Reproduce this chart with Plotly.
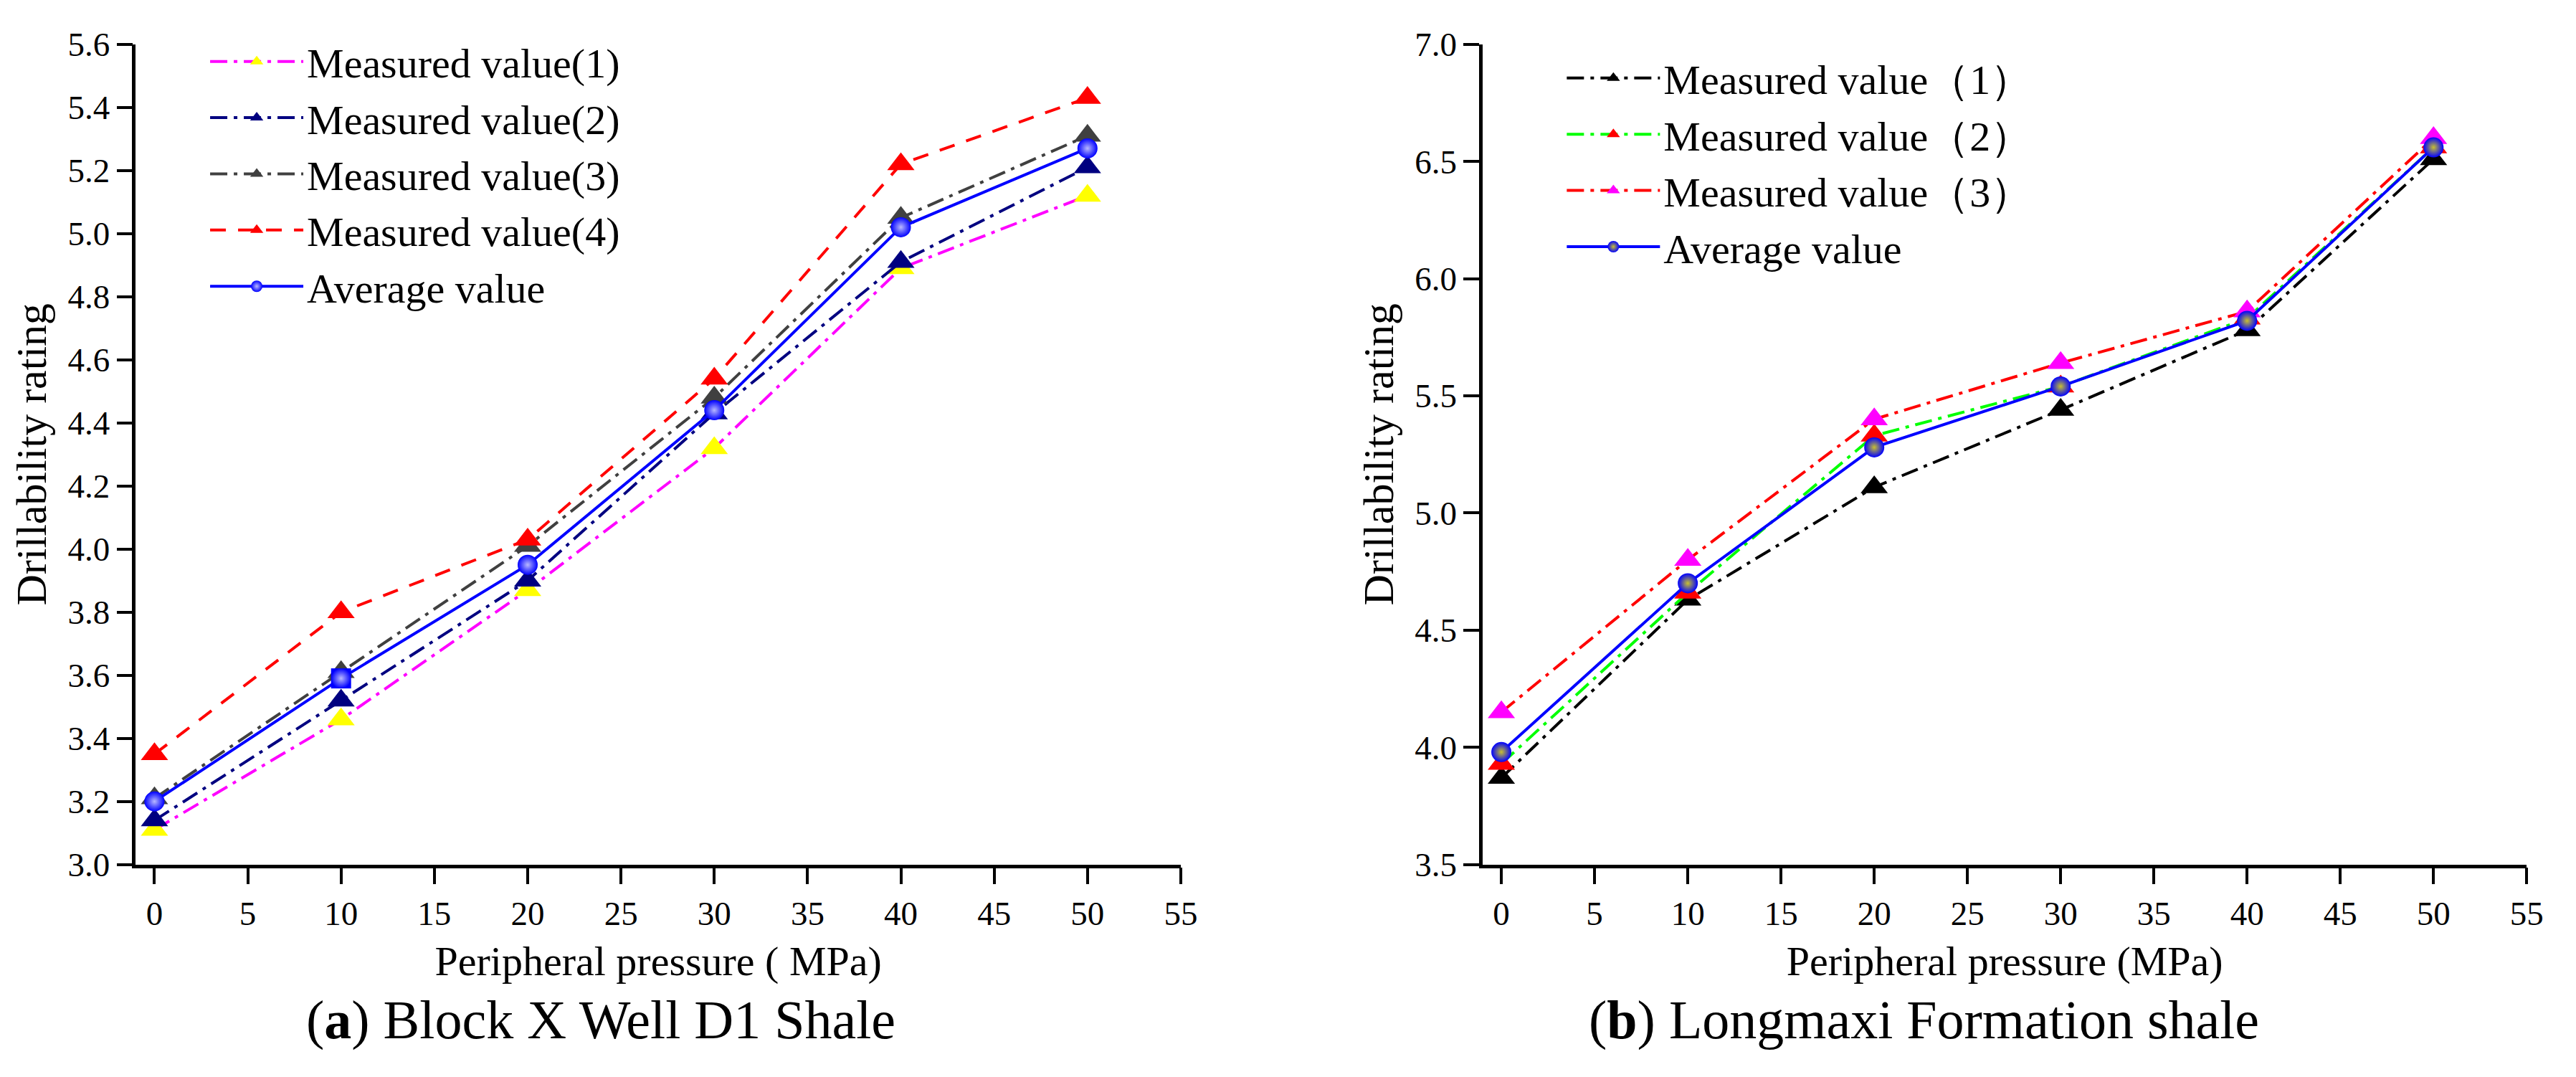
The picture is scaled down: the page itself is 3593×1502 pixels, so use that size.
import plotly.graph_objects as go

# ---------------- data ----------------
pressure = [0, 10, 20, 30, 40, 50]

# (a) Block X Well D1 Shale
a_names = ["Measured value(1)", "Measured value(2)", "Measured value(3)",
           "Measured value(4)", "Average value"]
a_m1 = [3.11, 3.46, 3.87, 4.32, 4.89, 5.12]
a_m2 = [3.14, 3.52, 3.90, 4.43, 4.91, 5.21]
a_m3 = [3.21, 3.61, 4.01, 4.48, 5.05, 5.31]
a_m4 = [3.35, 3.80, 4.03, 4.54, 5.22, 5.43]
a_avg = [3.20, 3.59, 3.95, 4.44, 5.02, 5.27]

# (b) Longmaxi Formation shale
b_names = ["Measured value\uff081\uff09", "Measured value\uff082\uff09",
           "Measured value\uff083\uff09", "Average value"]
b_m1 = [3.87, 4.63, 5.11, 5.44, 5.78, 6.51]
b_m2 = [3.93, 4.66, 5.33, 5.54, 5.83, 6.56]
b_m3 = [4.15, 4.80, 5.40, 5.64, 5.86, 6.60]
b_avg = [3.98, 4.70, 5.28, 5.54, 5.82, 6.56]

x_ticks = list(range(0, 56, 5))
a_yticks = [3.0, 3.2, 3.4, 3.6, 3.8, 4.0, 4.2, 4.4, 4.6, 4.8, 5.0, 5.2, 5.4, 5.6]
b_yticks = [3.5, 4.0, 4.5, 5.0, 5.5, 6.0, 6.5, 7.0]

captions = ["(<b>a</b>) Block X Well D1 Shale", "(<b>b</b>) Longmaxi Formation shale"]
x_title = ["Peripheral pressure ( MPa)", "Peripheral pressure (MPa)"]
y_title = "Drillability rating"

# ---------------- styling ----------------
FONT = "Liberation Serif, Times New Roman, serif"
TRI = 33
CIR = 28
LW = 4
DASHDOT = "24px,9px,5px,9px"
DASH = "22px,17px"

fig = go.Figure()

def add(x, y, name, lcolor, mcolor, dash, symbol, size, xa, ya, legend, grad=None):
    marker = dict(symbol=symbol, size=size, color=mcolor, line=dict(width=0))
    if grad is not None:
        marker["gradient"] = dict(type="radial", color=grad)
    fig.add_trace(go.Scatter(
        x=x, y=y, name=name, mode="lines+markers",
        line=dict(color=lcolor, width=LW, dash=dash),
        marker=marker, xaxis=xa, yaxis=ya, legend=legend))

# panel (a)
add(pressure, a_m1, a_names[0], "#FF00FF", "#FFFF00", DASHDOT, "triangle-up", TRI, "x", "y", "legend")
add(pressure, a_m2, a_names[1], "#000080", "#000080", DASHDOT, "triangle-up", TRI, "x", "y", "legend")
add(pressure, a_m3, a_names[2], "#404040", "#404040", DASHDOT, "triangle-up", TRI, "x", "y", "legend")
add(pressure, a_m4, a_names[3], "#FF0000", "#FF0000", DASH, "triangle-up", TRI, "x", "y", "legend")
add(pressure, a_avg, a_names[4], "#0000FF", "#0000FF", "solid",
    ["circle", "square", "circle", "circle", "circle", "circle"], CIR, "x", "y", "legend",
    grad="#B8B8FF")

# panel (b)
add(pressure, b_m1, b_names[0], "#000000", "#000000", DASHDOT, "triangle-up", TRI, "x2", "y2", "legend2")
add(pressure, b_m2, b_names[1], "#00FF00", "#FF0000", DASHDOT, "triangle-up", TRI, "x2", "y2", "legend2")
add(pressure, b_m3, b_names[2], "#FF0000", "#FF00FF", DASHDOT, "triangle-up", TRI, "x2", "y2", "legend2")
add(pressure, b_avg, b_names[3], "#0000FF", "#0000FF", "solid", "circle", CIR, "x2", "y2", "legend2",
    grad="#C8C030")

W, H = 3593, 1502

def xaxis(domain, title, anchor):
    return dict(domain=domain, range=[-1, 55], tickvals=x_ticks, ticks="outside",
                ticklen=23, tickwidth=4, tickcolor="black", showline=True, linewidth=4.5,
                linecolor="black", showgrid=False, zeroline=False, anchor=anchor,
                tickfont=dict(family=FONT, size=47, color="black"),
                title=dict(text=title, font=dict(family=FONT, size=58, color="black"), standoff=22))

def yaxis(domain, rng, ticks, fmt, anchor):
    return dict(domain=domain, range=rng, tickvals=ticks, tickformat=fmt, ticks="outside",
                ticklen=22, tickwidth=4, tickcolor="black", showline=True, linewidth=4.5,
                linecolor="black", showgrid=False, zeroline=False, anchor=anchor,
                tickfont=dict(family=FONT, size=47, color="black"),
                title=dict(text=y_title, font=dict(family=FONT, size=60, color="black"), standoff=12))

ydom = [1 - 1222 / H, 1 - 37 / H]
fig.update_layout(
    width=W, height=H, autosize=False,
    margin=dict(l=0, r=0, t=0, b=0),
    paper_bgcolor="white", plot_bgcolor="white",
    font=dict(family=FONT, color="black"),
    xaxis=xaxis([190.7 / W, 1658 / W], x_title[0], "y"),
    yaxis=yaxis(ydom, [3.0, 5.6], a_yticks, ".1f", "x"),
    xaxis2=xaxis([2082 / W, 3548 / W], x_title[1], "y2"),
    yaxis2=yaxis(ydom, [3.5, 7.0], b_yticks, ".1f", "x2"),
    legend=dict(x=290 / W, y=1 - 16 / H, xanchor="left", yanchor="top",
                bgcolor="rgba(0,0,0,0)", font=dict(family=FONT, size=58, color="black"),
                itemwidth=130, tracegroupgap=0),
    legend2=dict(x=2195 / W, y=1 - 40 / H, xanchor="left", yanchor="top",
                 bgcolor="rgba(0,0,0,0)", font=dict(family=FONT, size=58, color="black"),
                 itemwidth=130, tracegroupgap=0),
    showlegend=True,
)

for i, (cx, cap) in enumerate(zip([844 / W, 2702 / W], captions)):
    fig.add_annotation(x=cx, y=1 - 1447 / H, xref="paper", yref="paper",
                       text=cap, showarrow=False, xanchor="center", yanchor="middle",
                       font=dict(family=FONT, size=76, color="black"))

fig.write_html("out.html", config={"displayModeBar": False},
               post_script="document.body.style.margin='0';document.body.style.overflow='hidden';")
